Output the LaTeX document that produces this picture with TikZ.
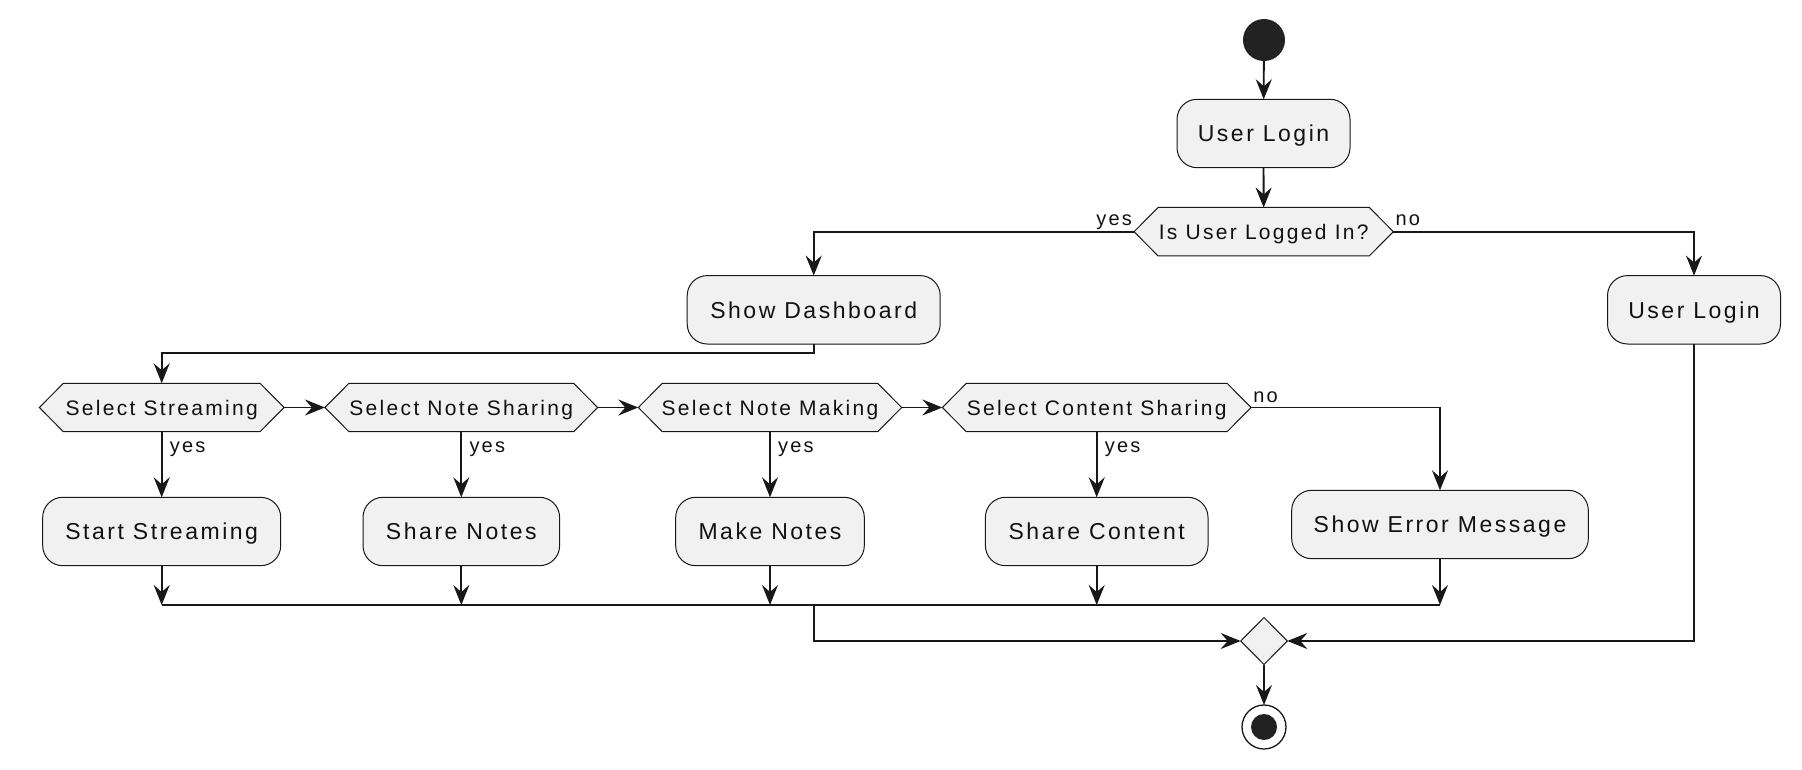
\documentclass[tikz,border=0pt]{standalone}
\usepackage{fontspec}
\setmainfont{Liberation Sans}
\newfontfamily\umlfont{Liberation Sans}[LetterSpace=11]
\usetikzlibrary{arrows.meta,shapes.geometric,calc}
\definecolor{boxfill}{HTML}{F1F1F1}
\definecolor{ink}{HTML}{181818}
\definecolor{txt}{HTML}{111111}
\definecolor{dot}{HTML}{222222}
\newcommand{\uhex}[5]{% name, x, y, width, text
  \path[fill=boxfill,draw=ink,line width=1pt]
    (#2-#4/2,#3) -- (#2-#4/2+24,#3-24.2) -- (#2+#4/2-24,#3-24.2) --
    (#2+#4/2,#3) -- (#2+#4/2-24,#3+24.2) -- (#2-#4/2+24,#3+24.2) -- cycle;
  \node[hexn,minimum width=#4 pt] (#1) at (#2,#3) {#5};}
\begin{document}
\begin{tikzpicture}[x=1pt,y=-1pt,
  act/.style={rectangle, rounded corners=20pt, draw=ink, line width=1pt, fill=boxfill,
    minimum height=68.4pt, inner sep=0pt, outer sep=0pt, text depth=0pt,
    font=\umlfont\fontsize{23}{28}\selectfont, text=txt},
  hexn/.style={rectangle, minimum height=48.4pt, inner sep=0pt, outer sep=0pt, text depth=0pt,
    font=\umlfont\fontsize{21}{25}\selectfont, text=txt},
  lbl/.style={font=\umlfont\fontsize{20}{24}\selectfont, text=txt, inner sep=0pt},
  conn/.style={draw=ink, line width=1.8pt},
  arr/.style={conn, -{Stealth[length=20pt,width=16pt,inset=7pt]}},
  startn/.style={circle, fill=dot, minimum size=42pt, inner sep=0pt, outer sep=0pt},
  endn/.style={circle, draw=ink, line width=1.3pt, fill=white, minimum size=44pt, inner sep=0pt, outer sep=0pt},
  mergen/.style={diamond, draw=ink, line width=1pt, fill=boxfill, minimum width=46.6pt,
    minimum height=47pt, inner sep=0pt, outer sep=0pt}]
\useasboundingbox[fill=white] (0,0) rectangle (1802,770);

% nodes
\node[startn] (start) at (1264,40) {};
\node[act, minimum width=173pt] (login1) at (1263.5,133.5) {User Login};
\uhex{d1}{1263.7}{231.7}{259.3}{Is User Logged In?}
\node[act, minimum width=253pt] (dash) at (813.7,309.8) {Show Dashboard};
\node[act, minimum width=173pt] (login2) at (1694,309.8) {User Login};

\uhex{s1}{161.7}{407.5}{244.7}{Select Streaming}
\uhex{s2}{461.3}{407.5}{272.7}{Select Note Sharing}
\uhex{s3}{770}{407.5}{263.4}{Select Note Making}
\uhex{s4}{1096.7}{407.5}{308.7}{Select Content Sharing}

\node[act, minimum width=238pt] (b1) at (161.7,531.5) {Start Streaming};
\node[act, minimum width=196.6pt] (b2) at (461.3,531.5) {Share Notes};
\node[act, minimum width=188.6pt] (b3) at (770,531.5) {Make Notes};
\node[act, minimum width=222.6pt] (b4) at (1096.7,531.5) {Share Content};
\node[act, minimum width=296.6pt] (err) at (1440,524.5) {Show Error Message};

\node[mergen] (merge) at (1264,641) {};
\node[endn] (end) at (1264,727) {};
\fill[dot] (end.center) circle[radius=13pt];

\coordinate (j1) at (0,353);
\coordinate (bar) at (0,605);

% connectors
\draw[arr] (start) -- (login1);
\draw[arr] (login1) -- (d1);
\draw[arr] (d1.west) -| (dash.north);
\draw[arr] (d1.east) -| (login2.north);
\node[lbl, anchor=base east] (ly0) at ($(d1.west)+(-2,-6)$) {yes};
\node[lbl, anchor=base west] (ln0) at ($(d1.east)+(2,-6)$) {no};

\draw[arr] (dash.south) -- (dash.south |- j1) -| (s1.north);
\draw[arr] (s1.east) -- (s2.west);
\draw[arr] (s2.east) -- (s3.west);
\draw[arr] (s3.east) -- (s4.west);
\draw[arr] (s4.east) -| (err.north);
\node[lbl, anchor=base west] (ln1) at ($(s4.east)+(2,-5)$) {no};

\draw[arr] (s1.south) -- (b1.north);
\draw[arr] (s2.south) -- (b2.north);
\draw[arr] (s3.south) -- (b3.north);
\draw[arr] (s4.south) -- (b4.north);
\node[lbl, anchor=base west] (ly1) at ($(s1.south)+(8,20.5)$) {yes};
\node[lbl, anchor=base west] (ly2) at ($(s2.south)+(8,20.5)$) {yes};
\node[lbl, anchor=base west] (ly3) at ($(s3.south)+(8,20.5)$) {yes};
\node[lbl, anchor=base west] (ly4) at ($(s4.south)+(8,20.5)$) {yes};

\draw[arr] (b1.south) -- (b1.south |- bar);
\draw[arr] (b2.south) -- (b2.south |- bar);
\draw[arr] (b3.south) -- (b3.south |- bar);
\draw[arr] (b4.south) -- (b4.south |- bar);
\draw[arr] (err.south) -- (err.south |- bar);
\draw[conn] (b1.south |- bar) -- (err.south |- bar);

\draw[arr] (dash.south |- bar) |- (merge.west);
\draw[arr] (login2.south) |- (merge.east);
\draw[arr] (merge.south) -- (end.north);
\end{tikzpicture}
\end{document}
